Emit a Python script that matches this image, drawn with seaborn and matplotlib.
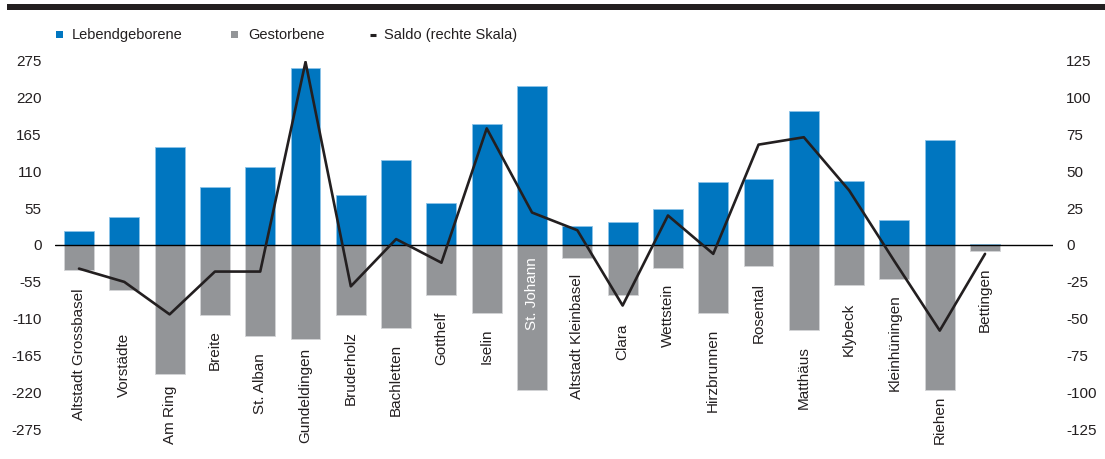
import numpy as np
import pandas as pd
import matplotlib
matplotlib.use("Agg")
import matplotlib.pyplot as plt
from matplotlib.patches import Rectangle
from matplotlib.lines import Line2D
import seaborn as sns

# ---- data ----
quartiere = ["Altstadt Grossbasel", "Vorstädte", "Am Ring", "Breite", "St. Alban",
             "Gundeldingen", "Bruderholz", "Bachletten", "Gotthelf", "Iselin",
             "St. Johann", "Altstadt Kleinbasel", "Clara", "Wettstein", "Hirzbrunnen",
             "Rosental", "Matthäus", "Klybeck", "Kleinhüningen", "Riehen", "Bettingen"]
lebendgeborene = [21, 42, 146, 86, 117, 264, 75, 126, 63, 180, 237,
                  29, 34, 53, 94, 99, 199, 96, 38, 157, 2]
gestorbene = [-37, -67, -193, -105, -136, -140, -104, -123, -75, -102, -216,
              -19, -75, -34, -101, -32, -127, -60, -50, -216, -9]
saldo = [-16, -25, -47, -18, -18, 124, -28, 4, -12, 79, 22,
         10, -41, 20, -6, 68, 73, 37, -11, -58, -6]

left_ticks = [-275, -220, -165, -110, -55, 0, 55, 110, 165, 220, 275]
right_ticks = [-125, -100, -75, -50, -25, 0, 25, 50, 75, 100, 125]

legend_labels = ["Lebendgeborene", "Gestorbene", "Saldo (rechte Skala)"]

# label placement nudges (pixels below bar end)
label_gap_px = {"Altstadt Grossbasel": 19, "Vorstädte": 43, "Am Ring": 11, "Breite": 15,
                "St. Alban": 17, "Gundeldingen": 9, "Iselin": 15, "Clara": 28,
                "Rosental": 17, "Klybeck": 17, "Riehen": 6}
inside_labels = {"St. Johann"}

BLUE = "#0076c0"
GRAY = "#939598"
DARK = "#231f20"

sns.set_theme(style="white")
plt.rcParams["font.family"] = ["Liberation Sans", "DejaVu Sans"]

DPI = 100
W, H = 1105, 459
fig = plt.figure(figsize=(W / DPI, H / DPI), dpi=DPI)

ax_l, ax_r = 55, 1053
ax_t, ax_b = 60.5, 429.5
ax = fig.add_axes([ax_l / W, 1 - ax_b / H, (ax_r - ax_l) / W, (ax_b - ax_t) / H])

df = pd.DataFrame({"Quartier": quartiere, "Lebendgeborene": lebendgeborene,
                   "Gestorbene": gestorbene, "Saldo": saldo})
df["pos"] = np.arange(len(df))

sns.barplot(data=df, x="Quartier", y="Lebendgeborene", order=quartiere, color=BLUE,
            saturation=1, width=0.66, edgecolor="#8cc3e8", linewidth=0.6, ax=ax)
sns.barplot(data=df, x="Quartier", y="Gestorbene", order=quartiere, color=GRAY,
            saturation=1, width=0.66, edgecolor="#d3d4d6", linewidth=0.6, ax=ax)

ax.set_xlim(-0.53, 21.5)
ax.set_ylim(-275, 275)
ax.set_yticks(left_ticks)
ax.set_yticklabels([str(t) for t in left_ticks])
ax.set_xticks([])
ax.set_xlabel("")
ax.set_ylabel("")
ax.axhline(0, color="black", lw=1.0, zorder=3)
for s in ax.spines.values():
    s.set_visible(False)
ax.tick_params(axis="y", length=0, pad=9.5, labelsize=11, labelcolor=DARK)
ax.set_facecolor("none")

ax2 = ax.twinx()
sns.lineplot(data=df, x="pos", y="Saldo", sort=False, color=DARK, lw=1.9, ax=ax2)
ax2.set_ylim(-125, 125)
ax2.set_yticks(right_ticks)
ax2.set_yticklabels([str(t) for t in right_ticks])
ax2.set_xlim(-0.53, 21.5)
ax2.set_ylabel("")
ax2.set_xlabel("")
for s in ax2.spines.values():
    s.set_visible(False)
ax2.tick_params(axis="y", length=0, pad=9.5, labelsize=11, labelcolor=DARK)
ax2.grid(False)
ax.grid(False)

# category labels
px2pt = 72 / DPI
for i, name in enumerate(quartiere):
    if name in inside_labels:
        ax2.annotate(name, xy=(i, 0), xycoords=("data", ax.transData) if False else "data",
                     xytext=(0, -12 * px2pt), textcoords="offset points",
                     rotation=90, ha="center", va="top", fontsize=11, color="white",
                     annotation_clip=False, zorder=5)
    else:
        gap = label_gap_px.get(name, 16)
        ax.annotate(name, xy=(i, gestorbene[i]), xytext=(0, -gap * px2pt),
                    textcoords="offset points", rotation=90, ha="center", va="top",
                    fontsize=11, color=DARK, annotation_clip=False, zorder=5)

# top black rule
fig.add_artist(Rectangle((7 / W, 1 - 10 / H), 1 - 7 / W, 6 / H, transform=fig.transFigure,
                         facecolor=DARK, edgecolor="none"))

# legend (manual)
ly = 1 - 35 / H
fig.add_artist(Rectangle((56 / W, 1 - 38 / H), 7 / W, 7 / H, transform=fig.transFigure,
                         facecolor=BLUE, edgecolor="none"))
fig.text(72 / W, ly, legend_labels[0], fontsize=10.5, color=DARK, va="center", ha="left")
fig.add_artist(Rectangle((231 / W, 1 - 38 / H), 7 / W, 7 / H, transform=fig.transFigure,
                         facecolor=GRAY, edgecolor="none"))
fig.text(248 / W, ly, legend_labels[1], fontsize=10.5, color=DARK, va="center", ha="left")
fig.add_artist(Line2D([370 / W, 376 / W], [ly, ly], transform=fig.transFigure,
                      color=DARK, lw=2.2, solid_capstyle="butt"))
fig.text(384 / W, ly, legend_labels[2], fontsize=10.5, color=DARK, va="center", ha="left")

fig.savefig("out.png", dpi=DPI, facecolor="white")
